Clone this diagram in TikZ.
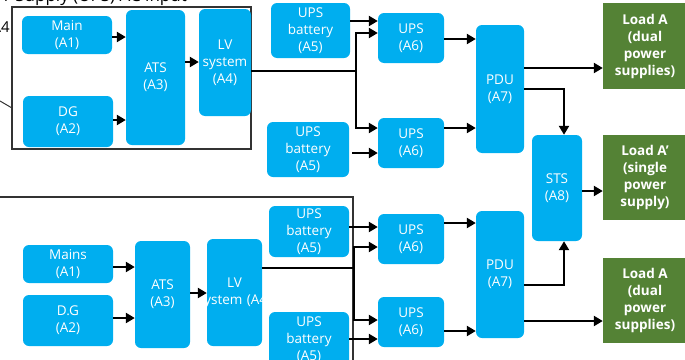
\documentclass[tikz,border=0pt]{standalone}
\usepackage{fontspec}
\setmainfont{Open Sans}
\usetikzlibrary{arrows.meta}
\definecolor{bluebox}{RGB}{0,174,239}
\definecolor{greenbox}{RGB}{84,130,53}
\begin{document}
\begin{tikzpicture}[x=1pt,y=-1pt,
  bbox/.style={fill=bluebox,rounded corners=6pt,inner sep=0pt,align=center,text=white,
    font=\fontsize{13.5}{17}\selectfont},
  gbox/.style={fill=greenbox,inner sep=0pt,align=center,text=white,
    font=\bfseries\fontsize{13.5}{17}\selectfont},
  frame/.style={draw=black!80,line width=1.2pt},
  arr/.style={line width=2.8pt,-{Triangle[length=9pt,width=10pt]}},
  wire/.style={line width=2.8pt}]
\useasboundingbox (0,0) rectangle (685,359);
\clip (0,0) rectangle (685,359);
% fragments at the edge
\node[anchor=base east,inner sep=0pt,font=\fontsize{17}{20}\selectfont] (ttl) at (187,1) {r Supply (UPS) AC input};
\node[anchor=base east,inner sep=0pt,font=\fontsize{15}{18}\selectfont] (a4l) at (10,32) {A4};
\coordinate (ldA) at (0,101);
\coordinate (ldB) at (12,108);
\draw[black!80,line width=1pt] (ldA) -- (ldB);
% frames
\draw[frame] (12,7) rectangle (251,149);
\draw[frame] (-5,197) rectangle (353,372);
% top group
\node[bbox,minimum width=90,minimum height=38] (mainA) at (67,35) {Main\\(A1)};
\node[bbox,minimum width=90,minimum height=51] (dgA) at (68,121.5) {DG\\(A2)};
\node[bbox,minimum width=59,minimum height=135] (atsA) at (155.5,77.5) {ATS\\(A3)};
\node[bbox,minimum width=52,minimum height=107] (lvA) at (225,62.5) {LV\\system\\(A4)};
\node[bbox,minimum width=79,minimum height=55] (batA1) at (310.5,30.5) {UPS\\battery\\(A5)};
\node[bbox,minimum width=66,minimum height=50] (upsA1) at (411,38) {UPS\\(A6)};
\node[bbox,minimum width=82,minimum height=55] (batA2) at (308,149.5) {UPS\\battery\\(A5)};
\node[bbox,minimum width=66,minimum height=50] (upsA2) at (411,143) {UPS\\(A6)};
\node[bbox,minimum width=48,minimum height=128] (pduA) at (500,89) {PDU\\(A7)};
\node[bbox,minimum width=50,minimum height=106] (sts) at (557,188) {STS\\(A8)};
\node[bbox,minimum width=48,minimum height=127] (pduB) at (500,274.5) {PDU\\(A7)};
\node[gbox,minimum width=84,minimum height=86] (loadA) at (645,46) {Load A\\(dual\\power\\supplies)};
\node[gbox,minimum width=84,minimum height=85] (loadAp) at (645,177.5) {Load A'\\(single\\power\\supply)};
\node[gbox,minimum width=84,minimum height=85] (loadB) at (645,300.5) {Load A\\(dual\\power\\supplies)};
% bottom group
\node[bbox,minimum width=90,minimum height=38] (mainB) at (68,264) {Mains\\(A1)};
\node[bbox,minimum width=90,minimum height=51] (dgB) at (68,320.5) {D.G\\(A2)};
\node[bbox,minimum width=55,minimum height=107] (atsB) at (162.5,294.5) {ATS\\(A3)};
\node[bbox,minimum width=55,minimum height=107] (lvB) at (234.5,292.5) {};
\begin{scope}
  \clip[rounded corners=6pt] (lvB.south west) rectangle (lvB.north east);
  \node[bbox,fill=none] (lvBt) at (lvB.center) {LV\\system\,\,(A4)};
\end{scope}
\node[bbox,minimum width=80,minimum height=51] (batB1) at (309,231.5) {UPS\\battery\\(A5)};
\node[bbox,minimum width=66,minimum height=50] (upsB1) at (411,239) {UPS\\(A6)};
\node[bbox,minimum width=80,minimum height=56] (batB2) at (309,340) {UPS\\battery\\(A5)};
\node[bbox,minimum width=66,minimum height=50] (upsB2) at (411,322) {UPS\\(A6)};
% junctions
\coordinate (jA) at (356,71);
\coordinate (jB) at (354,268);
% top arrows
\draw[arr] (mainA.east |- 0,37) -- (atsA.west |- 0,37);
\draw[arr] (dgA.east |- 0,120) -- (atsA.west |- 0,120);
\draw[arr] (atsA.east |- 0,62) -- (lvA.west |- 0,62);
\draw[wire] (lvA.east |- jA) -- (jA);
\draw[arr] (jA) -- (jA |- 0,33) -- (upsA1.west |- 0,33);
\draw[arr] (jA) -- (jA |- 0,128) -- (upsA2.west |- 0,128);
\draw[arr] (batA1.east |- 0,21) -- (upsA1.west |- 0,21);
\draw[arr] (batA2.east |- 0,153) ++(3,0) -- (upsA2.west |- 0,153);
\draw[arr] (upsA1.east |- 0,39) -- (pduA.west |- 0,39);
\draw[arr] (upsA2.east |- 0,128) -- (pduA.west |- 0,128);
\draw[arr] (pduA.east |- 0,68) -- (loadA.west |- 0,68);
\draw[arr] (pduA.east |- 0,89) -- (564,89) -- (sts.north -| 564,0);
\draw[arr] (sts.east |- 0,191) -- (loadAp.west |- 0,191);
\draw[arr] (pduB.east |- 0,285) -- (564,285) -- (sts.south -| 564,0);
\draw[arr] (pduB.east |- 0,321) -- (loadB.west |- 0,321);
% bottom arrows
\draw[arr] (mainB.east |- 0,267) -- (atsB.west |- 0,267);
\draw[arr] (dgB.east |- 0,318) -- (atsB.west |- 0,318);
\draw[arr] (atsB.east |- 0,293) -- (lvB.west |- 0,293);
\draw[wire] (lvB.east |- jB) -- (jB);
\draw[arr] (jB) -- (jB |- 0,247) -- (upsB1.west |- 0,247);
\draw[arr] (jB) -- (jB |- 0,320) -- (upsB2.west |- 0,320);
\draw[arr] (batB1.east |- 0,227) -- (upsB1.west |- 0,227);
\draw[arr] (batB2.east |- 0,339) -- (upsB2.west |- 0,339);
\draw[arr] (upsB1.east |- 0,223) -- (pduB.west |- 0,223);
\draw[arr] (upsB2.east |- 0,331) -- (pduB.west |- 0,331);
\end{tikzpicture}
\end{document}
